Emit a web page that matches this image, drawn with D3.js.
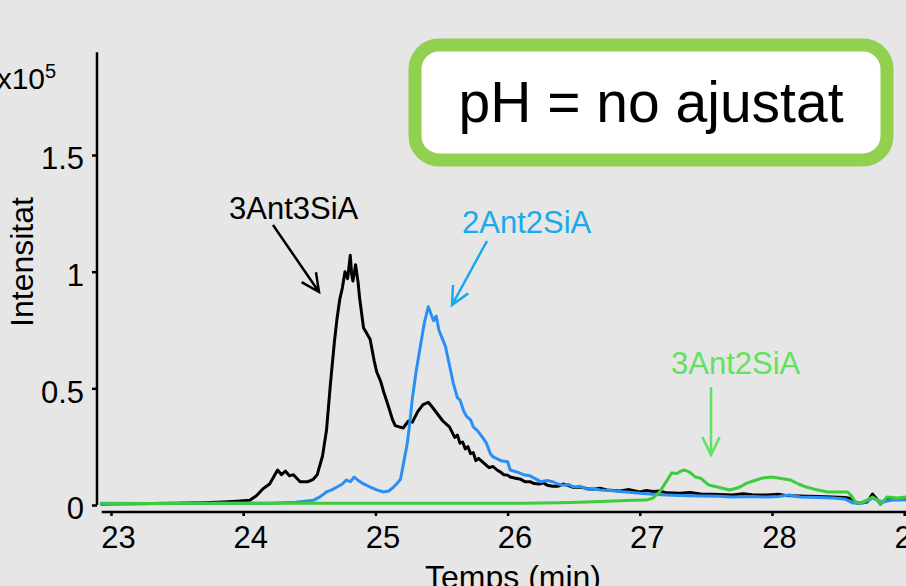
<!DOCTYPE html>
<html>
<head>
<meta charset="utf-8">
<script src="https://d3js.org/d3.v7.min.js"></script>
<style>
  body { margin: 0; background: #e6e6e6; }
  svg { display: block; font-family: "Liberation Sans", Arial, sans-serif; }
</style>
</head>
<body>
<div id="chart-area"></div>
<script>
/*
*    chromatogram - pH no ajustat
*/
var width = 906;
var height = 586;

// tick labels
var xTicks = [23, 24, 25, 26, 27, 28, 29];
var yTicks = [0, 0.5, 1, 1.5];

// series: [time (min), intensity (x10^5)]
var black3Ant3SiA = [[22.92,0.004],[23.1,0.005],[23.3,0.006],[23.5,0.008],[23.7,0.01],[23.85,0.013],[23.95,0.016],
	[24.05,0.02],[24.1,0.04],[24.15,0.07],[24.2,0.09],[24.23,0.12],[24.26,0.15],[24.29,0.13],[24.32,0.145],
	[24.35,0.125],[24.38,0.13],[24.43,0.1],[24.49,0.1],[24.53,0.11],[24.56,0.13],[24.6,0.21],[24.63,0.32],
	[24.66,0.52],[24.69,0.7],[24.71,0.8],[24.73,0.88],[24.75,0.93],[24.77,1.0],[24.79,0.97],[24.81,1.07],
	[24.82,0.99],[24.83,0.96],[24.85,1.03],[24.87,0.95],[24.88,0.89],[24.91,0.76],[24.93,0.74],[24.96,0.71],
	[24.99,0.62],[25.01,0.57],[25.04,0.53],[25.06,0.49],[25.1,0.42],[25.13,0.365],[25.15,0.34],[25.18,0.335],
	[25.21,0.33],[25.25,0.36],[25.28,0.355],[25.32,0.4],[25.36,0.43],[25.4,0.44],[25.43,0.42],[25.47,0.39],
	[25.51,0.36],[25.56,0.335],[25.6,0.29],[25.62,0.3],[25.64,0.265],[25.66,0.27],[25.68,0.24],[25.7,0.25],
	[25.72,0.22],[25.74,0.225],[25.76,0.19],[25.78,0.2],[25.81,0.185],[25.84,0.17],[25.86,0.16],[25.89,0.165],
	[25.92,0.15],[25.95,0.14],[25.97,0.13],[26.0,0.128],[26.02,0.12],[26.06,0.115],[26.1,0.11],[26.13,0.1],
	[26.17,0.1],[26.2,0.092],[26.24,0.09],[26.27,0.095],[26.3,0.085],[26.34,0.08],[26.38,0.08],[26.42,0.09],
	[26.45,0.085],[26.5,0.075],[26.55,0.077],[26.6,0.07],[26.65,0.068],[26.7,0.072],[26.75,0.064],[26.85,0.06],
	[26.92,0.066],[27.0,0.056],[27.05,0.062],[27.1,0.058],[27.15,0.06],[27.2,0.052],[27.3,0.05],[27.38,0.054],
	[27.46,0.047],[27.6,0.045],[27.7,0.043],[27.78,0.048],[27.85,0.044],[27.96,0.043],[28.05,0.046],[28.1,0.041],
	[28.21,0.039],[28.35,0.036],[28.46,0.034],[28.55,0.032],[28.6,0.028],[28.64,0.009],[28.68,0.01],[28.72,0.013],
	[28.76,0.047],[28.8,0.02],[28.82,0.004],[28.87,0.03],[28.93,0.027],[29.01,0.026],[29.1,0.025]];

var blue2Ant2SiA = [[22.92,0.006],[23.2,0.005],[23.5,0.006],[23.8,0.007],[24.0,0.008],[24.2,0.008],[24.3,0.01],
	[24.4,0.012],[24.53,0.02],[24.58,0.035],[24.63,0.056],[24.67,0.065],[24.71,0.077],[24.75,0.09],[24.78,0.107],
	[24.81,0.1],[24.84,0.12],[24.87,0.105],[24.9,0.094],[24.96,0.077],[25.01,0.065],[25.06,0.056],[25.1,0.06],
	[25.13,0.073],[25.16,0.09],[25.19,0.11],[25.22,0.2],[25.24,0.26],[25.26,0.35],[25.28,0.46],[25.31,0.58],
	[25.34,0.68],[25.37,0.78],[25.4,0.85],[25.42,0.82],[25.44,0.79],[25.46,0.81],[25.48,0.75],[25.53,0.68],
	[25.56,0.6],[25.59,0.52],[25.62,0.46],[25.64,0.45],[25.67,0.4],[25.69,0.38],[25.72,0.365],[25.74,0.335],
	[25.77,0.32],[25.81,0.29],[25.84,0.265],[25.87,0.22],[25.89,0.206],[25.95,0.19],[26.0,0.185],[26.02,0.15],
	[26.08,0.14],[26.12,0.13],[26.17,0.125],[26.25,0.1],[26.3,0.105],[26.34,0.1],[26.38,0.09],[26.42,0.085],
	[26.46,0.088],[26.5,0.077],[26.55,0.08],[26.6,0.068],[26.65,0.07],[26.7,0.064],[26.78,0.062],[26.85,0.058],
	[26.92,0.055],[27.0,0.05],[27.1,0.046],[27.2,0.043],[27.3,0.041],[27.46,0.039],[27.6,0.037],
	[27.7,0.034],[27.85,0.036],[27.96,0.034],[28.05,0.036],[28.13,0.043],[28.21,0.034],[28.35,0.032],[28.46,0.03],
	[28.55,0.026],[28.61,0.009],[28.65,0.008],[28.69,0.009],[28.73,0.02],[28.76,0.03],[28.8,0.02],[28.84,0.013],
	[28.9,0.02],[28.95,0.022],[29.01,0.021],[29.1,0.021]];

var green3Ant2SiA = [[22.92,0.007],[23.3,0.006],[23.7,0.007],[24.1,0.008],[24.5,0.007],[24.9,0.008],[25.3,0.007],
	[25.7,0.008],[26.1,0.008],[26.4,0.01],[26.6,0.013],[26.8,0.017],[26.95,0.02],[27.05,0.021],[27.1,0.03],
	[27.15,0.056],[27.2,0.1],[27.24,0.137],[27.28,0.135],[27.31,0.145],[27.34,0.15],[27.38,0.14],[27.42,0.12],
	[27.46,0.115],[27.52,0.086],[27.58,0.078],[27.68,0.064],[27.75,0.075],[27.81,0.094],[27.87,0.105],[27.93,0.116],
	[28.0,0.12],[28.06,0.115],[28.14,0.107],[28.2,0.09],[28.26,0.077],[28.34,0.065],[28.42,0.056],[28.5,0.056],
	[28.57,0.056],[28.6,0.04],[28.63,0.013],[28.67,0.009],[28.72,0.021],[28.76,0.034],[28.8,0.02],[28.82,0.004],
	[28.87,0.034],[28.95,0.03],[29.01,0.034],[29.1,0.033]];

var svg = d3.select("#chart-area")
	.append("svg")
	.attr("width", width)
	.attr("height", height);

svg.append("rect")
	.attr("width", width).attr("height", height)
	.attr("fill", "#e6e6e6");

//  Scales
var x = d3.scaleLinear()
	.domain([23, 28])
	.range([111, 772]);
var y = d3.scaleLinear()
	.domain([0, 1.5])
	.range([505, 155]);

// axes
var bottomAxis = d3.axisBottom(x)
	.tickValues(xTicks)
	.tickSize(4)
	.tickSizeOuter(0)
	.tickFormat((d) => { return d; });

var xAxisG = svg.append("g")
	.attr("class", "x axis")
	.attr("transform", "translate(0, 512)")
	.call(bottomAxis);
xAxisG.select(".domain").attr("d", "M" + x(22.93) + ",0H" + x(29.3));

var leftAxis = d3.axisLeft(y)
	.tickValues(yTicks)
	.tickSize(5)
	.tickSizeOuter(0)
	.tickFormat((d) => { return String(d); });

var yAxisG = svg.append("g")
	.attr("class", "y axis")
	.attr("transform", "translate(97, 0)")
	.call(leftAxis);
yAxisG.select(".domain").attr("d", "M0," + y(1.94) + "V" + y(0));

svg.selectAll(".axis path, .axis line")
	.attr("stroke", "#000")
	.attr("stroke-width", 2.5);

xAxisG.selectAll("text")
	.attr("font-size", "31px")
	.attr("fill", "#000")
	.attr("y", 36)
	.attr("dy", 0)
	.attr("dx", 7);

yAxisG.selectAll("text")
	.attr("font-size", "31px")
	.attr("fill", "#000")
	.attr("x", -13)
	.attr("dy", "0.45em");

// lines
var line = d3.line()
	.x((d) => { return x(d[0]); })
	.y((d) => { return y(d[1]); });

var series = [
	{ data: black3Ant3SiA, color: "#000000" },
	{ data: blue2Ant2SiA, color: "#2a8ff5" },
	{ data: green3Ant2SiA, color: "#3ccc3c" }
];

svg.selectAll(".trace").data(series)
	.enter()
	.append("path")
	.attr("class", "trace")
	.attr("d", (d) => { return line(d.data); })
	.attr("fill", "none")
	.attr("stroke", (d) => { return d.color; })
	.attr("stroke-width", 3)
	.attr("stroke-linejoin", "round");

// axis labels
svg.append("text")
	.attr("x", 513)
	.attr("y", 588)
	.attr("font-size", "32px")
	.attr("text-anchor", "middle")
	.text("Temps (min)");

svg.append("text")
	.attr("transform", "translate(33, 262) rotate(-90)")
	.attr("font-size", "32px")
	.attr("text-anchor", "middle")
	.text("Intensitat");

svg.append("text")
	.attr("x", 45)
	.attr("y", 89)
	.attr("font-size", "30px")
	.attr("text-anchor", "end")
	.text("x10");
svg.append("text")
	.attr("x", 45)
	.attr("y", 78)
	.attr("font-size", "20px")
	.text("5");

// title box
svg.append("rect")
	.attr("x", 415).attr("y", 45)
	.attr("width", 472).attr("height", 115)
	.attr("rx", 24)
	.attr("fill", "#ffffff")
	.attr("stroke", "#92d050")
	.attr("stroke-width", 13);
svg.append("text")
	.attr("x", 651)
	.attr("y", 122)
	.attr("font-size", "57px")
	.attr("text-anchor", "middle")
	.text("pH = no ajustat");

// annotations
function arrow(x1, y1, x2, y2, color) {
	var a = Math.atan2(y2 - y1, x2 - x1);
	var len = 20, spread = 0.45;
	var p = "M" + x1 + "," + y1 + "L" + x2 + "," + y2 +
		"M" + (x2 - len * Math.cos(a - spread)) + "," + (y2 - len * Math.sin(a - spread)) +
		"L" + x2 + "," + y2 +
		"L" + (x2 - len * Math.cos(a + spread)) + "," + (y2 - len * Math.sin(a + spread));
	svg.append("path")
		.attr("d", p)
		.attr("fill", "none")
		.attr("stroke", color)
		.attr("stroke-width", 2.5);
}

svg.append("text")
	.attr("x", 229).attr("y", 219)
	.attr("font-size", "31px")
	.attr("fill", "#000")
	.text("3Ant3SiA");
arrow(273, 225, 319, 292, "#000");

svg.append("text")
	.attr("x", 462).attr("y", 233)
	.attr("font-size", "31px")
	.attr("fill", "#1aa9ec")
	.text("2Ant2SiA");
arrow(487, 241, 452, 305, "#1aa9ec");

svg.append("text")
	.attr("x", 671).attr("y", 374)
	.attr("font-size", "31px")
	.attr("fill", "#5ee35e")
	.text("3Ant2SiA");
arrow(711, 387, 711, 455, "#5ee35e");
</script>
</body>
</html>
